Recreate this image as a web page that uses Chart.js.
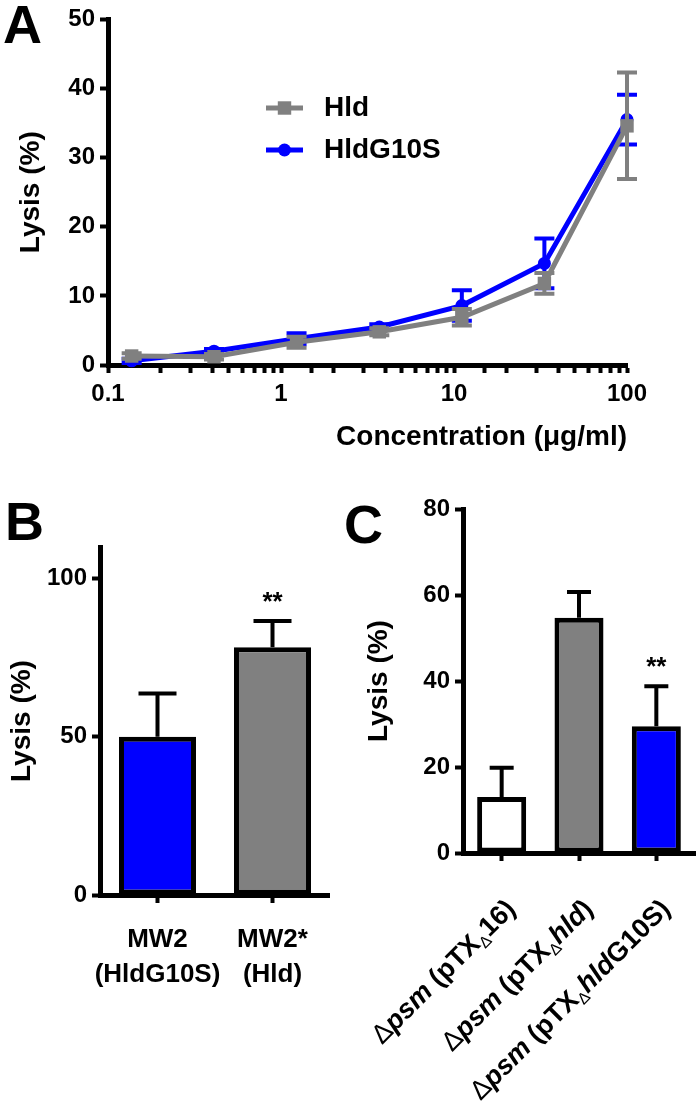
<!DOCTYPE html>
<html>
<head>
<meta charset="utf-8">
<script src="https://cdn.jsdelivr.net/npm/chart.js@4.4.0/dist/chart.umd.min.js"></script>
<style>
  body { margin: 0; background: #fff; width: 700px; height: 1103px; position: relative; overflow: hidden; font-family: "Liberation Sans", Arial, sans-serif; }
  canvas { position: absolute; }
  .panel { position: absolute; font-weight: bold; font-size: 54px; line-height: 54px; color: #000; }
</style>
</head>
<body>
<canvas id="chartA" width="700" height="460" style="left:0;top:0"></canvas>
<canvas id="chartB" width="330" height="643" style="left:0;top:460px"></canvas>
<canvas id="chartC" width="370" height="643" style="left:330px;top:460px"></canvas>
<div class="panel" style="left:3px;top:-3px">A</div>
<div class="panel" style="left:5px;top:494px">B</div>
<div class="panel" style="left:344px;top:497px">C</div>
<script>
// panel A: lysis vs peptide concentration
const concentrations = [0.137, 0.41, 1.23, 3.7, 11.1, 33.3, 100];
const concTicks = [0.1, 1, 10, 100];
const hldLysis = [1.3, 1.2, 3.3, 4.8, 6.9, 11.8, 34.6];
const hldErr = [0.4, 0.4, 0.8, 0.5, 1.2, 1.5, 7.7];
const g10sLysis = [0.6, 2.0, 3.8, 5.5, 8.6, 14.7, 35.5];
const g10sErr = [0.3, 0.3, 0.8, 0.4, 2.2, 3.6, 3.6];

// panel B
const strainsB = [["MW2", "(HldG10S)"], ["MW2*", "(Hld)"]];
const lysisB = [50, 78.3];
const errB = [13.7, 8.3];
const sigB = ["", "**"];

// panel C
const strainsC = ["Δpsm (pTXΔ16)", "Δpsm (pTXΔhld)", "Δpsm (pTXΔhldG10S)"];
const lysisC = [13.0, 54.7, 29.5];
const errC = [6.8, 6.0, 9.3];
const sigC = ["", "", "**"];

const FONT = '"Liberation Sans", Arial, sans-serif';
Chart.defaults.font.family = FONT;
Chart.defaults.font.weight = 'bold';
Chart.defaults.color = '#000';

const BLUE = '#0000ff';
const GRAY = '#808080';

// error bars, drawn before each dataset so the marks sit on top
const errorBars = {
  id: 'errorBars',
  beforeDatasetDraw(chart, args) {
    const ds = chart.data.datasets[args.index];
    if (!ds.errorBars) return;
    const ctx = chart.ctx;
    const y = chart.scales.y;
    const up = chart.config.type === 'bar';
    ctx.save();
    ctx.strokeStyle = ds.errorColor || ds.borderColor;
    ctx.lineWidth = 4;
    args.meta.data.forEach((el, i) => {
      const v = up ? ds.data[i] : ds.data[i].y;
      const e = ds.errorBars[i];
      const yt = y.getPixelForValue(v + e);
      const yb = up ? y.getPixelForValue(v) : y.getPixelForValue(v - e);
      const w = ds.capWidth;
      ctx.beginPath();
      ctx.moveTo(el.x, yb); ctx.lineTo(el.x, yt);
      ctx.moveTo(el.x - w, yt); ctx.lineTo(el.x + w, yt);
      if (!up) { ctx.moveTo(el.x - w, yb); ctx.lineTo(el.x + w, yb); }
      ctx.stroke();
    });
    ctx.restore();
  }
};

const sigMarks = {
  id: 'sigMarks',
  afterDatasetsDraw(chart) {
    const ctx = chart.ctx;
    const ds = chart.data.datasets[0];
    const meta = chart.getDatasetMeta(0);
    ctx.save();
    ctx.font = 'bold 26px ' + FONT;
    ctx.fillStyle = '#000';
    ctx.textAlign = 'center';
    ctx.textBaseline = 'alphabetic';
    meta.data.forEach((el, i) => {
      if (!ds.sig[i]) return;
      const yt = chart.scales.y.getPixelForValue(ds.data[i] + ds.errorBars[i]);
      ctx.fillText(ds.sig[i], el.x, yt - 11);
    });
    ctx.restore();
  }
};

const insideLegend = {
  id: 'insideLegend',
  afterDatasetsDraw(chart) {
    const ctx = chart.ctx;
    chart.data.datasets.forEach((ds, i) => {
      const y = 108 + i * 42;
      ctx.save();
      ctx.strokeStyle = ds.borderColor;
      ctx.lineWidth = ds.borderWidth;
      ctx.beginPath(); ctx.moveTo(266, y); ctx.lineTo(303, y); ctx.stroke();
      ctx.fillStyle = ds.pointBackgroundColor;
      Chart.helpers.drawPoint(ctx, { pointStyle: ds.pointStyle, radius: ds.pointRadius, borderWidth: 0, rotation: 0 }, 284.5, y);
      ctx.font = 'bold 28px ' + FONT;
      ctx.fillStyle = '#000';
      ctx.textBaseline = 'middle';
      ctx.fillText(ds.label, 324, y);
      ctx.restore();
    });
  }
};

// rotated strain labels with italic gene names and subscript delta
function labelParts(str) {
  const m = str.match(/^Δ(\w+) \((\w+)Δ(hld)?(.*)\)$/);
  const parts = [
    { t: 'Δ', f: '27px ' + FONT },
    { t: m[1], f: 'italic bold 27px ' + FONT },
    { t: ' (' + m[2], f: 'bold 27px ' + FONT },
    { t: 'Δ', f: '16px ' + FONT, dy: 8 }
  ];
  if (m[3]) parts.push({ t: m[3], f: 'italic bold 27px ' + FONT });
  parts.push({ t: m[4] + ')', f: 'bold 27px ' + FONT });
  return parts;
}

const slantLabels = {
  id: 'slantLabels',
  afterDraw(chart) {
    const ctx = chart.ctx;
    const xs = chart.scales.x;
    chart.data.labels.forEach((lab, i) => {
      const parts = labelParts(lab);
      ctx.save();
      let total = 0;
      parts.forEach(p => { ctx.font = p.f; p.w = ctx.measureText(p.t).width; total += p.w; });
      ctx.translate(xs.getPixelForTick(i) + 10, xs.top + 52);
      ctx.rotate(-Math.PI / 4);
      ctx.fillStyle = '#000';
      ctx.textBaseline = 'middle';
      let cx = -total;
      parts.forEach(p => { ctx.font = p.f; ctx.fillText(p.t, cx, p.dy || 0); cx += p.w; });
      ctx.restore();
    });
  }
};

function axisStyle(extra) {
  return Object.assign({
    border: { color: '#000', width: 5 },
    grid: { drawOnChartArea: false, tickColor: '#000', tickLength: 8, tickWidth: 4, offset: false }
  }, extra);
}

const titleFont = { size: 28, weight: 'bold', lineHeight: 1 };

new Chart(document.getElementById('chartA'), {
  type: 'line',
  data: {
    datasets: [{
      label: 'Hld',
      data: concentrations.map((c, i) => ({ x: c, y: hldLysis[i] })),
      borderColor: GRAY, borderWidth: 5,
      pointStyle: 'rect', pointRadius: 9.5, pointBackgroundColor: GRAY, pointBorderWidth: 0,
      errorBars: hldErr, capWidth: 10, clip: false
    }, {
      label: 'HldG10S',
      data: concentrations.map((c, i) => ({ x: c, y: g10sLysis[i] })),
      borderColor: BLUE, borderWidth: 5,
      pointStyle: 'circle', pointRadius: 6.5, pointBackgroundColor: BLUE, pointBorderWidth: 0,
      errorBars: g10sErr, capWidth: 10, clip: false
    }]
  },
  options: {
    responsive: false, animation: false,
    layout: { padding: { left: 0, top: 19, right: 73, bottom: 0 } },
    plugins: { legend: { display: false }, tooltip: { enabled: false } },
    scales: {
      x: axisStyle({
        type: 'logarithmic', min: 0.1, max: 100,
        ticks: {
          font: { size: 24, weight: 'bold' }, padding: 7, maxRotation: 0, autoSkip: false,
          callback: v => { const t = concTicks.find(k => Math.abs(v / k - 1) < 1e-6); return t === undefined ? '' : String(t); }
        },
        title: { display: true, text: 'Concentration (μg/ml)', align: 'end', font: titleFont, padding: { top: 0, bottom: 9 } },
        afterFit: s => { s.height = 95; }
      }),
      y: axisStyle({
        min: 0, max: 50,
        ticks: { stepSize: 10, font: { size: 24, weight: 'bold' }, padding: 5 },
        title: { display: true, text: 'Lysis (%)', font: titleFont, padding: { top: 17, bottom: 0 } },
        afterFit: s => { s.width = 108; }
      })
    }
  },
  plugins: [errorBars, insideLegend]
});

new Chart(document.getElementById('chartB'), {
  type: 'bar',
  data: {
    labels: strainsB,
    datasets: [{
      data: lysisB, backgroundColor: [BLUE, GRAY], borderColor: '#000', borderWidth: 5, borderSkipped: false,
      barPercentage: 0.67, categoryPercentage: 1,
      errorBars: errB, errorColor: '#000', capWidth: 19, sig: sigB
    }]
  },
  options: {
    responsive: false, animation: false,
    layout: { padding: { left: 0, top: 87, right: 0, bottom: 0 } },
    plugins: { legend: { display: false }, tooltip: { enabled: false } },
    scales: {
      x: axisStyle({
        ticks: { font: { size: 26, weight: 'bold', lineHeight: 1.35 }, padding: 19, maxRotation: 0, minRotation: 0, autoSkip: false },
        afterFit: s => { s.height = 208; }
      }),
      y: axisStyle({
        min: 0, max: 110,
        ticks: { stepSize: 50, font: { size: 24, weight: 'bold' }, padding: 5 },
        afterBuildTicks: s => { s.ticks = s.ticks.filter(t => t.value % 50 === 0); },
        title: { display: true, text: 'Lysis (%)', font: titleFont, padding: { top: 8, bottom: 0 } },
        afterFit: s => { s.width = 100; }
      })
    }
  },
  plugins: [errorBars, sigMarks]
});

new Chart(document.getElementById('chartC'), {
  type: 'bar',
  data: {
    labels: strainsC,
    datasets: [{
      data: lysisC, backgroundColor: ['#ffffff', GRAY, BLUE], borderColor: '#000', borderWidth: 5, borderSkipped: false,
      barPercentage: 0.634, categoryPercentage: 1,
      errorBars: errC, errorColor: '#000', capWidth: 12, sig: sigC
    }]
  },
  options: {
    responsive: false, animation: false,
    layout: { padding: { left: 0, top: 49, right: 5, bottom: 0 } },
    plugins: { legend: { display: false }, tooltip: { enabled: false } },
    scales: {
      x: axisStyle({
        ticks: { display: false },
        afterFit: s => { s.height = 250; }
      }),
      y: axisStyle({
        min: 0, max: 80,
        ticks: { stepSize: 20, font: { size: 24, weight: 'bold' }, padding: 5 },
        title: { display: true, text: 'Lysis (%)', font: titleFont, padding: { top: 35, bottom: 0 } },
        afterFit: s => { s.width = 133; }
      })
    }
  },
  plugins: [errorBars, sigMarks, slantLabels]
});
</script>
</body>
</html>
